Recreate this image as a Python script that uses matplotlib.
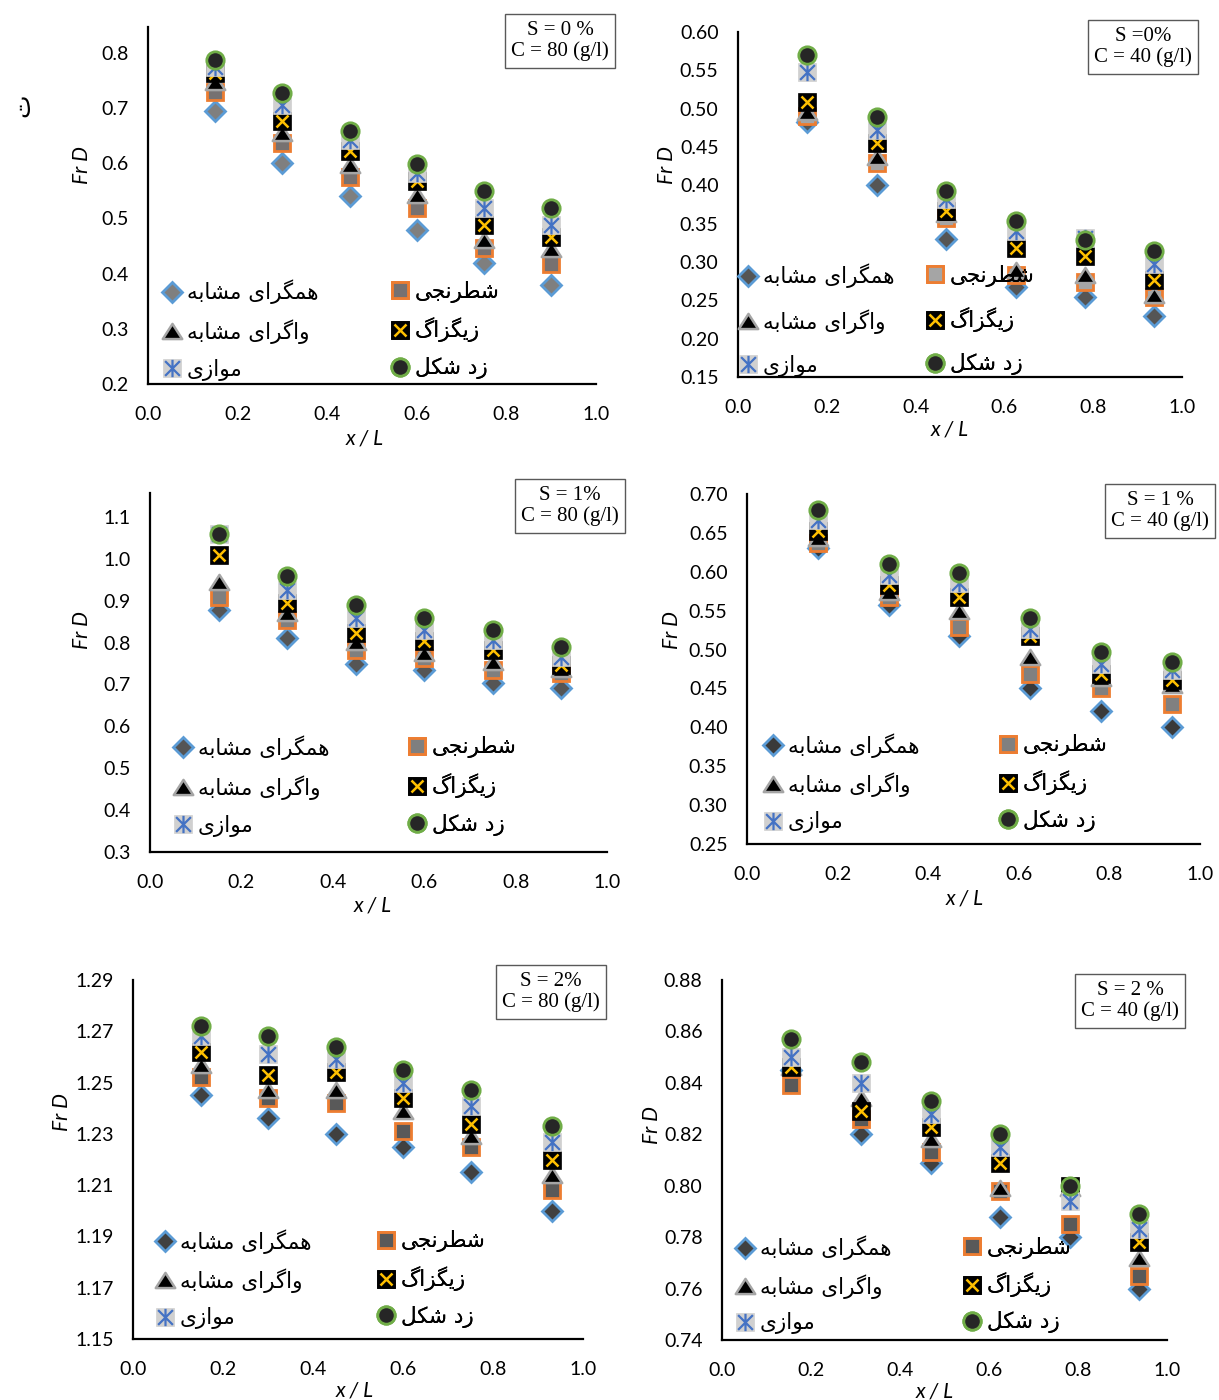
import numpy as np
import matplotlib
matplotlib.use("Agg")
import matplotlib.pyplot as plt
from matplotlib.lines import Line2D
from matplotlib.path import Path
from matplotlib.ticker import FormatStrFormatter, FixedLocator
from matplotlib.legend_handler import HandlerTuple

# ---------------------------------------------------------------- data
series_labels = ["همگرای مشابه", "شطرنجی", "واگرای مشابه", "زیگزاگ", "موازی", "زد شکل"]

x_c80 = [0.15, 0.30, 0.45, 0.60, 0.75, 0.90]
x_c80_s2 = [0.15, 0.30, 0.45, 0.60, 0.75, 0.93]
x_c40 = [0.156, 0.3125, 0.469, 0.625, 0.781, 0.9375]
x_ticks = [0.0, 0.2, 0.4, 0.6, 0.8, 1.0]

# rows: همگرای مشابه, شطرنجی, واگرای مشابه, زیگزاگ, موازی, زد شکل
fr_s0_c80 = [
    [0.695, 0.600, 0.540, 0.480, 0.420, 0.380],
    [0.730, 0.636, 0.576, 0.519, 0.446, 0.418],
    [0.748, 0.655, 0.597, 0.543, 0.461, 0.445],
    [0.764, 0.677, 0.622, 0.567, 0.488, 0.467],
    [0.775, 0.706, 0.642, 0.582, 0.519, 0.488],
    [0.787, 0.727, 0.659, 0.598, 0.549, 0.519],
]
fr_s0_c40 = [
    [0.482, 0.400, 0.330, 0.268, 0.255, 0.230],
    [0.490, 0.429, 0.357, 0.283, 0.274, 0.255],
    [0.496, 0.437, 0.362, 0.290, 0.283, 0.257],
    [0.509, 0.455, 0.366, 0.318, 0.308, 0.277],
    [0.548, 0.472, 0.382, 0.340, 0.331, 0.298],
    [0.570, 0.489, 0.393, 0.353, 0.329, 0.315],
]
fr_s1_c80 = [
    [0.878, 0.810, 0.749, 0.735, 0.703, 0.691],
    [0.908, 0.854, 0.782, 0.763, 0.735, 0.727],
    [0.945, 0.870, 0.802, 0.774, 0.754, 0.736],
    [1.009, 0.894, 0.822, 0.804, 0.782, 0.747],
    [1.060, 0.926, 0.858, 0.830, 0.806, 0.766],
    [1.059, 0.960, 0.890, 0.858, 0.830, 0.790],
]
fr_s1_c40 = [
    [0.630, 0.557, 0.517, 0.450, 0.421, 0.400],
    [0.637, 0.568, 0.529, 0.469, 0.450, 0.430],
    [0.643, 0.574, 0.549, 0.491, 0.463, 0.455],
    [0.652, 0.583, 0.568, 0.517, 0.469, 0.461],
    [0.667, 0.596, 0.585, 0.527, 0.482, 0.474],
    [0.679, 0.610, 0.598, 0.540, 0.497, 0.484],
]
fr_s2_c80 = [
    [1.245, 1.236, 1.230, 1.225, 1.215, 1.200],
    [1.252, 1.244, 1.242, 1.231, 1.225, 1.208],
    [1.257, 1.247, 1.247, 1.239, 1.229, 1.214],
    [1.262, 1.253, 1.254, 1.244, 1.234, 1.220],
    [1.268, 1.261, 1.259, 1.250, 1.241, 1.227],
    [1.272, 1.268, 1.264, 1.255, 1.247, 1.233],
]
fr_s2_c40 = [
    [0.845, 0.820, 0.809, 0.788, 0.780, 0.760],
    [0.839, 0.826, 0.813, 0.798, 0.785, 0.765],
    [0.846, 0.834, 0.818, 0.799, 0.799, 0.772],
    [0.846, 0.829, 0.823, 0.809, 0.800, 0.778],
    [0.850, 0.840, 0.828, 0.815, 0.794, 0.783],
    [0.857, 0.848, 0.833, 0.820, 0.800, 0.789],
]

yticks_s0_c80 = [0.2, 0.3, 0.4, 0.5, 0.6, 0.7, 0.8]
yticks_s0_c40 = [0.15, 0.20, 0.25, 0.30, 0.35, 0.40, 0.45, 0.50, 0.55, 0.60]
yticks_s1_c80 = [0.3, 0.4, 0.5, 0.6, 0.7, 0.8, 0.9, 1.0, 1.1]
yticks_s1_c40 = [0.25, 0.30, 0.35, 0.40, 0.45, 0.50, 0.55, 0.60, 0.65, 0.70]
yticks_s2_c80 = [1.15, 1.17, 1.19, 1.21, 1.23, 1.25, 1.27, 1.29]
yticks_s2_c40 = [0.74, 0.76, 0.78, 0.80, 0.82, 0.84, 0.86, 0.88]

panel_titles = ["S = 0 %\nC = 80 (g/l)", "S =0%\nC = 40 (g/l)",
                "S = 1%\nC = 80 (g/l)", "S = 1 %\nC = 40 (g/l)",
                "S = 2%\nC = 80 (g/l)", "S = 2 %\nC = 40 (g/l)"]

# ---------------------------------------------------------------- Persian shaping
_FORMS = {  # isolated, final, initial, medial
    "ا": ("\uFE8D", "\uFE8E", None, None),
    "ب": ("\uFE8F", "\uFE90", "\uFE91", "\uFE92"),
    "ج": ("\uFE9D", "\uFE9E", "\uFE9F", "\uFEA0"),
    "د": ("\uFEA9", "\uFEAA", None, None),
    "ر": ("\uFEAD", "\uFEAE", None, None),
    "ز": ("\uFEAF", "\uFEB0", None, None),
    "ش": ("\uFEB5", "\uFEB6", "\uFEB7", "\uFEB8"),
    "ط": ("\uFEC1", "\uFEC2", "\uFEC3", "\uFEC4"),
    "ل": ("\uFEDD", "\uFEDE", "\uFEDF", "\uFEE0"),
    "م": ("\uFEE1", "\uFEE2", "\uFEE3", "\uFEE4"),
    "ن": ("\uFEE5", "\uFEE6", "\uFEE7", "\uFEE8"),
    "ه": ("\uFEE9", "\uFEEA", "\uFEEB", "\uFEEC"),
    "و": ("\uFEED", "\uFEEE", None, None),
    "ک": ("\uFB8E", "\uFB8F", "\uFB90", "\uFB91"),
    "گ": ("\uFB92", "\uFB93", "\uFB94", "\uFB95"),
    "ی": ("\uFBFC", "\uFBFD", "\uFBFE", "\uFBFF"),
}


def shape_fa(text):
    """Contextual letter forms, then visual (left-to-right) order."""
    out = []
    for i, c in enumerate(text):
        if c not in _FORMS:
            out.append(c)
            continue
        prev = text[i - 1] if i > 0 else ""
        nxt = text[i + 1] if i + 1 < len(text) else ""
        join_prev = prev in _FORMS and _FORMS[prev][2] is not None
        join_next = _FORMS[c][2] is not None and nxt in _FORMS
        iso, fin, ini, med = _FORMS[c]
        if join_prev and join_next:
            out.append(med)
        elif join_prev:
            out.append(fin)
        elif join_next:
            out.append(ini)
        else:
            out.append(iso)
    return "".join(out)[::-1]


# ---------------------------------------------------------------- marker styles
TRIANGLE = Path([(0, 0.78), (-1, -0.78), (1, -0.78), (0, 0.78)],
                [Path.MOVETO, Path.LINETO, Path.LINETO, Path.CLOSEPOLY])
ASTERISK = Path([(0, -1), (0, 1), (-0.85, -0.85), (0.85, 0.85), (-0.85, 0.85), (0.85, -0.85)],
                [Path.MOVETO, Path.LINETO, Path.MOVETO, Path.LINETO, Path.MOVETO, Path.LINETO])


def layer_styles(diamond_fc, square_fc):
    return [
        [dict(marker="D", ms=10, mfc=diamond_fc, mec="#5b9bd5", mew=2)],
        [dict(marker="s", ms=11.5, mfc=square_fc, mec="#ed7d31", mew=2)],
        [dict(marker=TRIANGLE, ms=14, mfc="black", mec="#a5a5a5", mew=1.8)],
        [dict(marker="s", ms=12.5, mfc="black", mec="black", mew=0.5),
         dict(marker="x", ms=9, mec="#ffc000", mew=1.8)],
        [dict(marker="s", ms=12.5, mfc="#d0d0d0", mec="#d0d0d0", mew=0.5),
         dict(marker=ASTERISK, ms=12.5, mec="#4472c4", mew=1.6, mfc="none")],
        [dict(marker="o", ms=12.5, mfc="#262626", mec="#70ad47", mew=2)],
    ]


# ---------------------------------------------------------------- layout
W, H = 1219, 1400
fig = plt.figure(figsize=(W / 100, H / 100), dpi=100)


def rect(left, right, top, bottom):
    return [left / W, 1 - bottom / H, (right - left) / W, (bottom - top) / H]


def fpt(x, y):
    return (x / W, 1 - y / H)


panels = [
    dict(x=x_c80, fr=fr_s0_c80, yt=yticks_s0_c80, box=(148, 596, 27, 384), ylim=(0.2, 0.847), fmt="%.1f",
         ylab=(-0.125, 0.613), xlab=(0.484, -0.126), title=(560, 41), fc=("#7f7f7f", "#767171"),
         leg=(172, 400, 330), lsp=0.69),
    dict(x=x_c40, fr=fr_s0_c40, yt=yticks_s0_c40, box=(738, 1182, 32, 377), ylim=(0.15, 0.60), fmt="%.2f",
         ylab=(-0.137, 0.614), xlab=(0.477, -0.122), title=(1143, 47), fc=("#555555", "#a5a5a5"),
         leg=(748, 935, 320), lsp=0.97),
    dict(x=x_c80, fr=fr_s1_c80, yt=yticks_s1_c80, box=(150, 607, 493, 852), ylim=(0.3, 1.157), fmt="%.1f",
         ylab=(-0.127, 0.618), xlab=(0.488, -0.120), title=(570, 506), fc=("#555555", "#7f7f7f"),
         leg=(183, 417, 786), lsp=0.71),
    dict(x=x_c40, fr=fr_s1_c40, yt=yticks_s1_c40, box=(747, 1200, 494, 844), ylim=(0.25, 0.70), fmt="%.2f",
         ylab=(-0.1435, 0.611), xlab=(0.481, -0.128), title=(1160, 511), fc=("#3a3a3a", "#808080"),
         leg=(773, 1008, 783), lsp=0.67),
    dict(x=x_c80_s2, fr=fr_s2_c80, yt=yticks_s2_c80, box=(133, 583, 980, 1339), ylim=(1.15, 1.29), fmt="%.2f",
         ylab=(-0.135, 0.632), xlab=(0.493, -0.116), title=(551, 992), fc=("#404040", "#595959"),
         leg=(165, 386, 1279), lsp=0.67),
    dict(x=x_c40, fr=fr_s2_c40, yt=yticks_s2_c40, box=(722, 1167, 980, 1340), ylim=(0.74, 0.88), fmt="%.2f",
         ylab=(-0.135, 0.597), xlab=(0.479, -0.114), title=(1130, 1001), fc=("#404040", "#595959"),
         leg=(745, 972, 1285), lsp=0.64),
]

tick_font = "Lato"
leg_size = 15.5
handle_half_px = 0.5 * leg_size * 100 / 72

for p, title in zip(panels, panel_titles):
    ax = fig.add_axes(rect(*p["box"]))
    styles = layer_styles(*p["fc"])
    z = 3
    for values, layers in zip(p["fr"], styles):
        for st in layers:
            ax.plot(p["x"], values, linestyle="none", zorder=z, clip_on=False, **st)
            z += 1

    ax.set_xlim(0, 1)
    ax.set_ylim(*p["ylim"])
    ax.xaxis.set_major_locator(FixedLocator(x_ticks))
    ax.yaxis.set_major_locator(FixedLocator(p["yt"]))
    ax.xaxis.set_major_formatter(FormatStrFormatter("%.1f"))
    ax.yaxis.set_major_formatter(FormatStrFormatter(p["fmt"]))
    for side in ("top", "right"):
        ax.spines[side].set_visible(False)
    for side in ("left", "bottom"):
        ax.spines[side].set_linewidth(1.6)
        ax.spines[side].set_color("black")
    ax.tick_params(axis="both", length=0, labelsize=14)
    ax.tick_params(axis="y", pad=14)
    ax.tick_params(axis="x", pad=16)
    for lab in ax.get_xticklabels() + ax.get_yticklabels():
        lab.set_fontfamily(tick_font)

    ax.set_ylabel("Fr D", fontsize=15, fontstyle="italic", family=tick_font)
    ax.yaxis.set_label_coords(*p["ylab"])
    ax.set_xlabel("x / L", fontsize=15, fontstyle="italic", family=tick_font)
    ax.xaxis.set_label_coords(*p["xlab"])

    fig.text(*fpt(*p["title"]), title,
             ha="center", va="center", multialignment="center", fontsize=15,
             family="Liberation Serif", linespacing=1.15,
             bbox=dict(boxstyle="square,pad=0.3", fc="white", ec="#595959", lw=1.0))

    # legend keys, drawn in two columns of three entries
    handles = []
    for layers in styles:
        parts = tuple(Line2D([], [], linestyle="none", **st) for st in layers)
        handles.append(parts if len(parts) > 1 else parts[0])
    labels = [shape_fa(s) for s in series_labels]
    col1x, col2x, midy = p["leg"]
    for idx, cx in ((slice(0, 6, 2), col1x), (slice(1, 6, 2), col2x)):
        leg = ax.legend(handles[idx], labels[idx], loc="center left",
                        bbox_to_anchor=fpt(cx - handle_half_px, midy),
                        bbox_transform=fig.transFigure, frameon=False,
                        prop=dict(family="DejaVu Sans", size=leg_size),
                        handlelength=1.0, handletextpad=0.2, borderpad=0,
                        borderaxespad=0, labelspacing=p["lsp"], numpoints=1,
                        handler_map={tuple: HandlerTuple(ndivide=1, pad=0)})
        ax.add_artist(leg)

fig.text(*fpt(22, 105), "ت", rotation=90, ha="center", va="center",
         fontsize=18, family="DejaVu Sans")

fig.savefig("out.png", dpi=100)
